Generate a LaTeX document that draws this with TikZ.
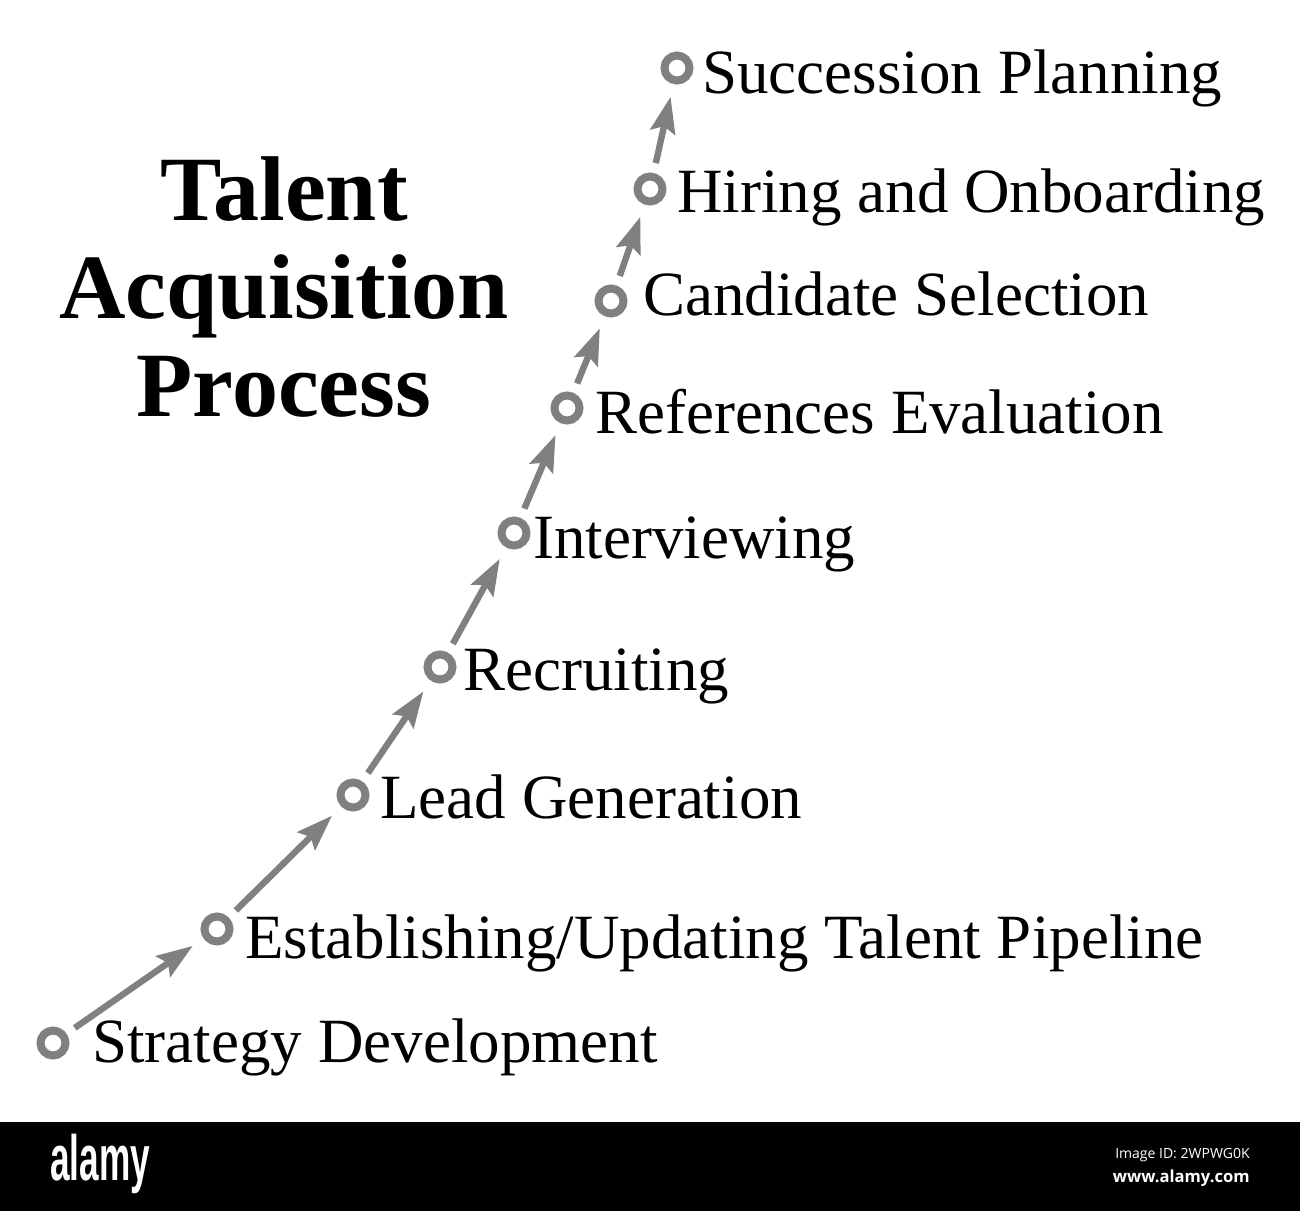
\documentclass[tikz,border=0pt]{standalone}
\usepackage{graphicx}
\usepackage{fontspec}
\setmainfont{Liberation Serif}
\newfontfamily\logofont{Liberation Sans}
\newfontfamily\idfont{Open Sans}
\usetikzlibrary{arrows.meta}
\definecolor{stepgray}{RGB}{128,128,128}

\begin{document}
\begin{tikzpicture}[x=0.5pt, y=-0.5pt,
    dot/.style={circle, draw=stepgray, line width=4pt, minimum size=12.5pt, inner sep=0pt},
    lbl/.style={anchor=base west, inner sep=0pt, font=\fontsize{31.5}{36}\selectfont},
    flow/.style={draw=stepgray, line width=3.2pt, -{Stealth[length=18pt,width=12.5pt,inset=3pt]}, shorten <=5pt, shorten >=6.5pt}]
    \useasboundingbox (0,0) rectangle (1300,1211);
    \node[inner sep=0pt, align=center, font=\bfseries\fontsize{46}{49}\selectfont] (title) at (284,287) {Talent\\Acquisition\\Process};
    \node[dot] (s1) at (53,1043) {};
    \node[dot] (s2) at (217,929) {};
    \node[dot] (s3) at (353,795) {};
    \node[dot] (s4) at (440,667) {};
    \node[dot] (s5) at (514,533) {};
    \node[dot] (s6) at (567,408) {};
    \node[dot] (s7) at (611,301) {};
    \node[dot] (s8) at (650,189) {};
    \node[dot] (s9) at (677,68) {};
    \node[lbl] (l1) at (92,1062) {Strategy Development};
    \node[lbl] (l2) at (245,958) {Establishing/Updating Talent Pipeline};
    \node[lbl] (l3) at (380,818) {Lead Generation};
    \node[lbl] (l4) at (463,690) {Recruiting};
    \node[lbl] (l5) at (533,558) {Interviewing};
    \node[lbl] (l6) at (595,433) {References Evaluation};
    \node[lbl] (l7) at (643,315) {Candidate Selection};
    \node[lbl] (l8) at (677,212) {Hiring and Onboarding};
    \node[lbl] (l9) at (702,93) {Succession Planning};
    \draw[flow] (s1) -- (s2);
    \draw[flow] (s2) -- (s3);
    \draw[flow] (s3) -- (s4);
    \draw[flow] (s4) -- (s5);
    \draw[flow] (s5) -- (s6);
    \draw[flow] (s6) -- (s7);
    \draw[flow] (s7) -- (s8);
    \draw[flow] (s8) -- (s9);
    % footer band
    \fill[black] (0,1122) rectangle (1300,1211);
    \node[anchor=base west, inner sep=0pt, text=white, font=\logofont\bfseries\fontsize{32}{32}\selectfont] (logo) at (50,1180) {\scalebox{0.55}[1]{alamy}};
    \node[anchor=base east, inner sep=0pt, text=white, font=\idfont\fontsize{7}{7}\selectfont] (imgid) at (1250,1158) {Image ID: 2WPWG0K};
    \node[anchor=base east, inner sep=0pt, text=white, font=\idfont\bfseries\fontsize{8.3}{8.3}\selectfont] (site) at (1250,1182) {www.alamy.com};
\end{tikzpicture}
\end{document}
